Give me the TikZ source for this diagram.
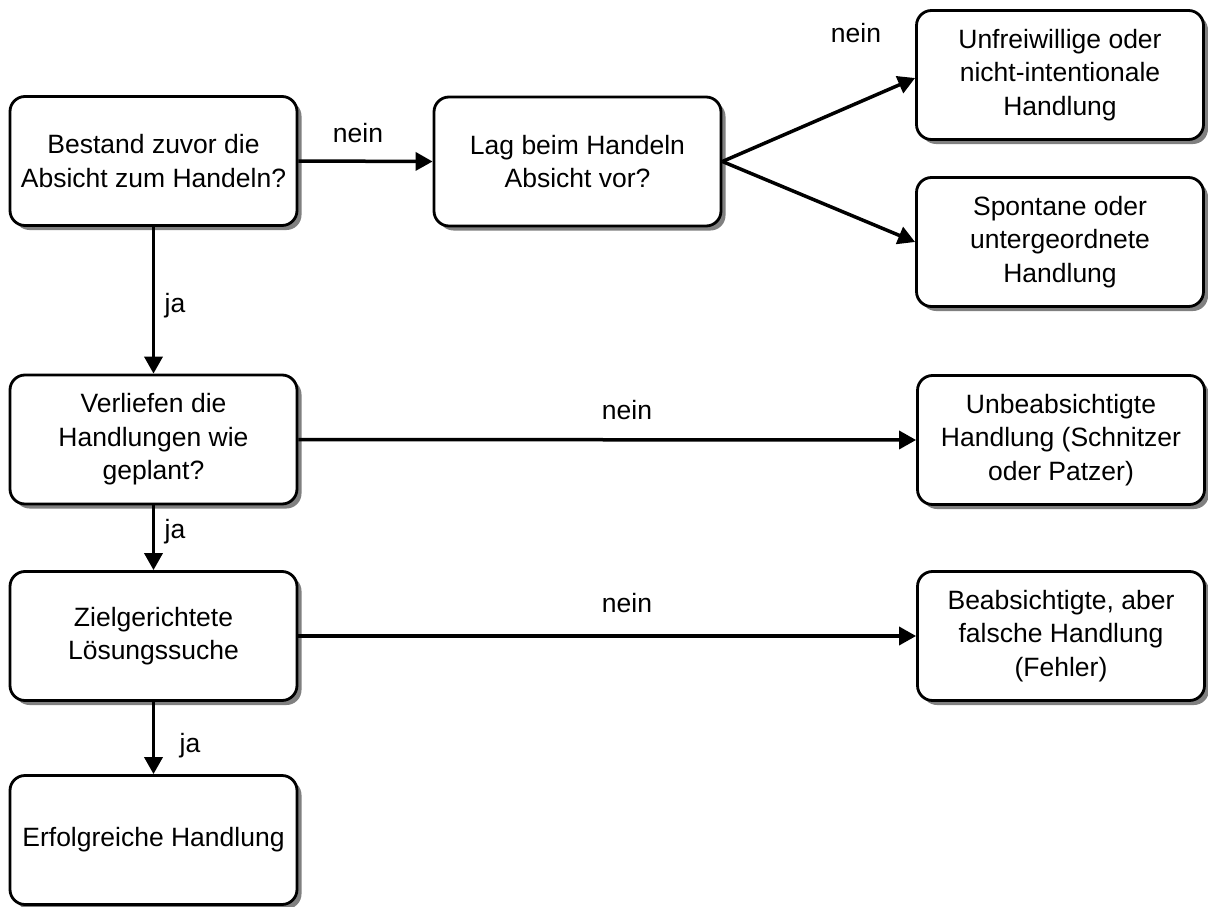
\documentclass[tikz,border=0pt]{standalone}
\usepackage{fontspec}
\setmainfont{Liberation Sans}
\usetikzlibrary{arrows.meta,shadows}

\begin{document}
\begin{tikzpicture}[x=1pt,y=-1pt,
  box/.style={draw, line width=2.8pt, rounded corners=15pt, fill=white,
    minimum width=287pt, minimum height=129pt, align=center, inner sep=0pt,
    font=\fontsize{26.5}{33.5}\selectfont,
    drop shadow={shadow xshift=4.5pt, shadow yshift=-4.5pt, fill=black!50, opacity=1}},
  arr/.style={line width=3.5pt, -{Triangle[length=17pt,width=18pt]}},
  lbl/.style={inner sep=0pt, font=\fontsize{26.5}{30}\selectfont}]
\useasboundingbox (0,0) rectangle (1208,907);

% decision and outcome boxes
\node[box] (absicht)  at (153.5,161)  {Bestand zuvor die\\Absicht zum Handeln?};
\node[box] (handeln)  at (577.5,161.5){Lag beim Handeln\\Absicht vor?};
\node[box] (unfrei)   at (1060,75)    {Unfreiwillige oder\\nicht-intentionale\\Handlung};
\node[box] (spontan)  at (1060,242)   {Spontane oder\\untergeordnete\\Handlung};
\node[box] (geplant)  at (153.5,439.5){Verliefen die\\Handlungen wie\\geplant?};
\node[box] (unbeab)   at (1061,440)   {Unbeabsichtigte\\Handlung (Schnitzer\\oder Patzer)};
\node[box] (ziel)     at (153.5,636)  {Zielgerichtete\\Lösungssuche};
\node[box] (fehler)   at (1061,636)   {Beabsichtigte, aber\\falsche Handlung\\(Fehler)};
\node[box] (erfolg)   at (153.5,840)  {Erfolgreiche Handlung};

% connectors
\draw[arr] (absicht.east) -- (handeln.west);
\draw[arr] (handeln.east) -- ([yshift=-3pt]unfrei.west);
\draw[arr] (handeln.east) -- (spontan.west);
\draw[arr] (absicht.south) -- (geplant.north);
\draw[arr] (geplant.east) -- (unbeab.west);
\draw[arr] (geplant.south) -- (ziel.north);
\draw[arr] (ziel.east) -- (fehler.west);
\draw[arr] (ziel.south) -- (erfolg.north);

% branch labels
\node[lbl] (l1) at (358,133.5) {nein};
\node[lbl] (l2) at (856,33)    {nein};
\node[lbl] (l3) at (175,306)   {ja};
\node[lbl] (l4) at (627,410)   {nein};
\node[lbl] (l5) at (175,532)   {ja};
\node[lbl] (l6) at (627,603)   {nein};
\node[lbl] (l7) at (190,746)   {ja};
\end{tikzpicture}
\end{document}
